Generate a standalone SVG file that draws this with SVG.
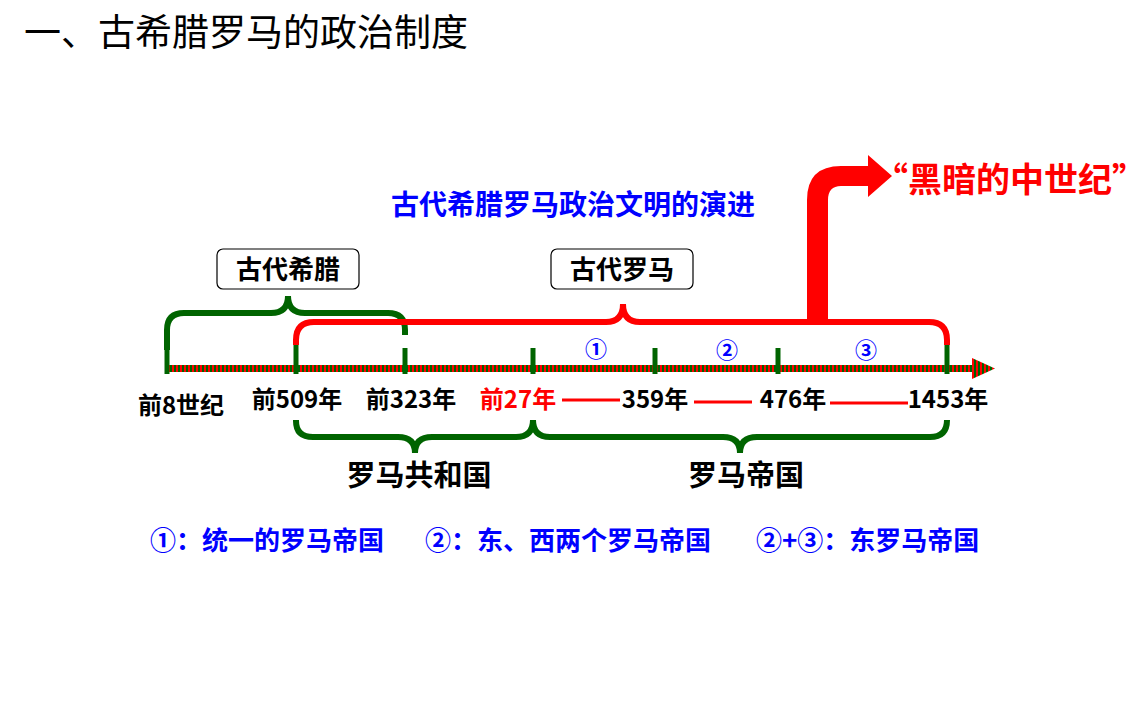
<svg xmlns="http://www.w3.org/2000/svg" width="1145" height="720" viewBox="0 0 1145 720">
<style>
text{font-family:"Noto Sans CJK SC","Liberation Sans",sans-serif;font-weight:bold}
.lbl{font-size:24px;fill:#000;text-anchor:middle}
.blue{fill:#0000ff}
.g{fill:none;stroke:#006400;stroke-width:6}
.r{fill:none;stroke:#ff0000;stroke-width:6}
.tick{stroke:#006400;stroke-width:5}
.box{fill:#fff;stroke:#000;stroke-width:1.2}
</style>
<defs>
<pattern id="st" width="4" height="10" patternUnits="userSpaceOnUse">
<rect width="4" height="10" fill="#006400"/><rect width="2" height="10" fill="#ff0000"/>
</pattern>
</defs>
<text x="24" y="46" style="font-size:37px;font-weight:normal">一、古希腊罗马的政治制度</text>
<text x="573" y="215" class="blue" style="font-size:28px;text-anchor:middle">古代希腊罗马政治文明的演进</text>
<g id="connectors">
<rect x="167" y="365" width="808" height="7" fill="url(#st)"/>
<polygon points="972,358 995,368.5 972,379" fill="url(#st)"/>
<path class="g" d="M167,350 V330 Q167,313 184,313 H271 Q288,313 288,296 Q288,313 305,313 H388 Q405,313 405,330 V335"/>
<path class="r" d="M296,345 V340 Q296,322 314,322 H606 Q623,322 623,304 Q623,322 640,322 H929 Q947,322 947,340 V345"/>
<path d="M807,322 V200 Q807,166 841,166 H868 V155 L892,176 L868,197 V186 H841 Q828,186 828,200 V322 Z" fill="#ff0000"/>
<line class="tick" x1="167" y1="348" x2="167" y2="374"/>
<line class="tick" x1="296" y1="345" x2="296" y2="374"/>
<line class="tick" x1="405" y1="348" x2="405" y2="374"/>
<line class="tick" x1="533" y1="348" x2="533" y2="374"/>
<line class="tick" x1="655" y1="348" x2="655" y2="374"/>
<line class="tick" x1="778" y1="348" x2="778" y2="374"/>
<line class="tick" x1="947" y1="345" x2="947" y2="374"/>
<path class="g" d="M296,420 V421 Q296,437 313,437 H398 Q415,437 415,453 Q415,437 432,437 H516 Q533,437 533,420"/>
<path class="g" d="M533,420 Q533,437 550,437 H723 Q740,437 740,453 Q740,437 757,437 H930 Q947,437 947,420"/>
<g stroke="#ff0000" stroke-width="3"><line x1="562" y1="400" x2="620" y2="400"/><line x1="694" y1="402" x2="752" y2="402"/><line x1="830" y1="403" x2="908" y2="403"/></g>
</g>
<g id="greece"><rect class="box" x="217" y="249" width="142" height="40" rx="6"/><text x="288" y="279" class="lbl" style="font-size:26px">古代希腊</text></g>
<g id="rome"><rect class="box" x="551" y="249" width="142" height="40" rx="6"/><text x="622" y="279" class="lbl" style="font-size:26px">古代罗马</text></g>
<g id="dark"><text x="1010" y="192" style="font-size:34px;fill:#ff0000;text-anchor:middle">“黑暗的中世纪”</text></g>
<g id="nums" class="blue" style="font-size:22px;text-anchor:middle">
<text x="596" y="357">①</text><text x="727" y="358">②</text><text x="866" y="358">③</text>
</g>
<g id="dates">
<text x="181" y="414" class="lbl">前8世纪</text>
<text x="297" y="408" class="lbl">前509年</text>
<text x="411" y="408" class="lbl">前323年</text>
<text x="518" y="408" class="lbl" style="fill:#ff0000">前27年</text>
<text x="655" y="408" class="lbl">359年</text>
<text x="793" y="408" class="lbl">476年</text>
<text x="948" y="408" class="lbl">1453年</text>
</g>
<g id="periods">
<text x="419" y="486" class="lbl" style="font-size:29px">罗马共和国</text>
<text x="746" y="486" class="lbl" style="font-size:29px">罗马帝国</text>
</g>
<g id="legend" class="blue" style="font-size:26px">
<text x="150" y="550">①：统一的罗马帝国</text>
<text x="425" y="550">②：东、西两个罗马帝国</text>
<text x="756" y="550">②+③：东罗马帝国</text>
</g>
</svg>
